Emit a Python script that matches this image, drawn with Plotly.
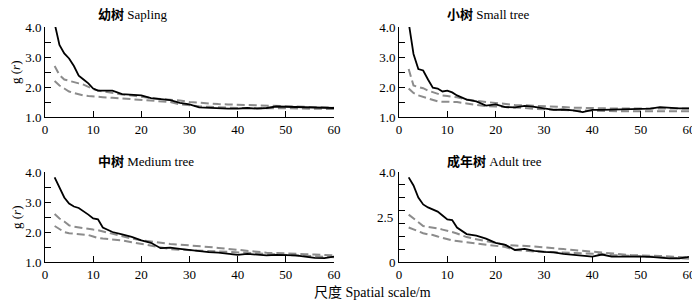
import plotly.graph_objects as go

# ---------------- data ----------------
r = [2, 3, 4, 5, 6, 7, 8, 9, 10, 11, 12, 14, 16, 18, 20, 22, 24, 26, 28, 30,
     32, 34, 36, 38, 40, 42, 44, 46, 48, 50, 52, 54, 56, 58, 60]

sapling_obs = [4.12, 3.40, 3.12, 2.95, 2.70, 2.38, 2.25, 2.12, 1.95, 1.88, 1.88, 1.88, 1.76, 1.73, 1.72, 1.63, 1.60, 1.56, 1.47, 1.42,
               1.32, 1.30, 1.28, 1.28, 1.28, 1.30, 1.28, 1.30, 1.35, 1.34, 1.33, 1.33, 1.32, 1.31, 1.30]
sapling_hi = [2.70, 2.40, 2.25, 2.20, 2.15, 2.12, 2.08, 2.00, 1.93, 1.88, 1.85, 1.80, 1.75, 1.72, 1.67, 1.63, 1.60, 1.58, 1.55, 1.50,
              1.47, 1.45, 1.43, 1.42, 1.41, 1.40, 1.39, 1.38, 1.37, 1.36, 1.35, 1.34, 1.33, 1.32, 1.31]
sapling_lo = [2.20, 2.05, 1.95, 1.85, 1.80, 1.75, 1.72, 1.70, 1.68, 1.67, 1.66, 1.64, 1.62, 1.60, 1.58, 1.55, 1.53, 1.50, 1.42, 1.38,
              1.36, 1.34, 1.32, 1.31, 1.30, 1.30, 1.29, 1.29, 1.29, 1.29, 1.28, 1.28, 1.28, 1.27, 1.27]

small_obs = [4.15, 3.10, 2.60, 2.55, 2.25, 1.98, 1.95, 1.85, 1.88, 1.82, 1.72, 1.58, 1.52, 1.38, 1.42, 1.33, 1.32, 1.37, 1.34, 1.30,
             1.24, 1.25, 1.22, 1.16, 1.24, 1.24, 1.25, 1.25, 1.26, 1.26, 1.28, 1.33, 1.30, 1.29, 1.29]
small_hi = [2.60, 2.05, 2.00, 1.96, 1.88, 1.82, 1.76, 1.72, 1.70, 1.68, 1.66, 1.58, 1.53, 1.50, 1.47, 1.43, 1.40, 1.39, 1.38, 1.37,
            1.35, 1.33, 1.31, 1.30, 1.30, 1.29, 1.29, 1.28, 1.28, 1.28, 1.28, 1.28, 1.28, 1.28, 1.28]
small_lo = [1.95, 1.80, 1.72, 1.67, 1.62, 1.56, 1.52, 1.51, 1.51, 1.51, 1.50, 1.45, 1.40, 1.36, 1.35, 1.34, 1.33, 1.30, 1.27, 1.25,
            1.24, 1.23, 1.22, 1.21, 1.21, 1.20, 1.20, 1.19, 1.19, 1.19, 1.19, 1.19, 1.19, 1.19, 1.19]

medium_obs = [3.82, 3.50, 3.15, 2.95, 2.85, 2.80, 2.70, 2.58, 2.45, 2.42, 2.15, 2.00, 1.92, 1.84, 1.72, 1.64, 1.46, 1.48, 1.44, 1.40,
              1.36, 1.33, 1.31, 1.27, 1.24, 1.27, 1.24, 1.22, 1.24, 1.23, 1.22, 1.18, 1.14, 1.13, 1.18]
medium_hi = [2.60, 2.45, 2.35, 2.22, 2.18, 2.15, 2.12, 2.10, 2.08, 2.06, 2.02, 1.93, 1.85, 1.78, 1.72, 1.68, 1.63, 1.60, 1.58, 1.56,
             1.53, 1.50, 1.47, 1.44, 1.41, 1.37, 1.33, 1.31, 1.30, 1.28, 1.27, 1.26, 1.25, 1.24, 1.22]
medium_lo = [2.20, 2.10, 2.00, 1.96, 1.95, 1.94, 1.93, 1.90, 1.85, 1.80, 1.78, 1.76, 1.72, 1.66, 1.60, 1.56, 1.48, 1.43, 1.41, 1.39,
             1.38, 1.36, 1.35, 1.34, 1.32, 1.31, 1.29, 1.27, 1.26, 1.24, 1.22, 1.21, 1.20, 1.18, 1.16]

adult_obs = [3.82, 3.55, 3.15, 2.92, 2.82, 2.76, 2.68, 2.55, 2.42, 2.40, 2.15, 1.93, 1.88, 1.78, 1.64, 1.57, 1.40, 1.44, 1.37, 1.34,
             1.32, 1.27, 1.24, 1.22, 1.18, 1.25, 1.18, 1.18, 1.19, 1.18, 1.17, 1.14, 1.12, 1.12, 1.17]
adult_hi = [2.58, 2.45, 2.30, 2.20, 2.17, 2.15, 2.12, 2.08, 2.05, 2.00, 1.95, 1.83, 1.76, 1.69, 1.62, 1.57, 1.55, 1.54, 1.52, 1.49,
            1.47, 1.43, 1.40, 1.37, 1.34, 1.31, 1.28, 1.25, 1.23, 1.22, 1.22, 1.20, 1.18, 1.16, 1.15]
adult_lo = [2.15, 2.08, 2.02, 1.96, 1.92, 1.90, 1.85, 1.80, 1.75, 1.72, 1.70, 1.66, 1.63, 1.59, 1.54, 1.50, 1.40, 1.37, 1.35, 1.34,
            1.33, 1.32, 1.31, 1.30, 1.28, 1.26, 1.23, 1.21, 1.20, 1.19, 1.18, 1.16, 1.14, 1.12, 1.11]

titles_cn = ["幼树", "小树", "中树", "成年树"]
titles_en = ["Sapling", "Small tree", "Medium tree", "Adult tree"]
x_ticks = [0, 10, 20, 30, 40, 50, 60]
y_tick_vals = [1.0, 1.5, 2.0, 2.5, 3.0, 3.5, 4.0]
y_tick_text = ["1.0", "", "2.0", "", "3.0", "", "4.0"]
adult_ytick_text = ["0", "2.5", "4.0"]
x_title = "尺度 Spatial scale/m"
y_title = "g (<i>r</i>)"

series = [(sapling_obs, sapling_hi, sapling_lo),
          (small_obs, small_hi, small_lo),
          (medium_obs, medium_hi, medium_lo),
          (adult_obs, adult_hi, adult_lo)]

# ---------------- layout geometry (page pixels) ----------------
PAGE_W, PAGE_H = 700, 307
OFF = 8  # default page body margin in the browser
W, H = PAGE_W - OFF, PAGE_H - OFF
SERIF = "Liberation Serif, 'Noto Sans CJK SC', serif"
col_px = [(45, 334), (399, 689)]
row_px = [(27, 117), (172, 262)]  # (top at g=4, bottom at g=1)


def px_x(p):
    return (p - OFF) / W


def px_y(p):
    return 1 - (p - OFF) / H


def ax_id(letter, n):
    return letter if n == 1 else f"{letter}{n}"


def ax_key(letter, n):
    return f"{letter}axis" if n == 1 else f"{letter}axis{n}"


fig = go.Figure()
layout = dict(
    width=W, height=H,
    margin=dict(l=0, r=0, t=0, b=0, autoexpand=False),
    paper_bgcolor="white", plot_bgcolor="white",
    showlegend=False,
    font=dict(family=SERIF, size=13, color="black"),
)
annotations = []

for i in range(4):
    row, col = divmod(i, 2)
    x0, x1 = col_px[col]
    top, bot = row_px[row]
    xd = [px_x(x0), px_x(x1)]
    yd = [px_y(bot), px_y(top)]

    n = i + 1
    ax_x, ax_y = ax_id("x", n), ax_id("y", n)

    obs, hi, lo = series[i]
    for vals, color, width, dash in [(hi, "#8c8c8c", 2, "8px,4px"),
                                     (lo, "#8c8c8c", 2, "8px,4px"),
                                     (obs, "black", 1.8, "solid")]:
        fig.add_trace(go.Scatter(x=r, y=vals, mode="lines", xaxis=ax_x, yaxis=ax_y,
                                 line=dict(color=color, width=width, dash=dash),
                                 hoverinfo="skip"))

    layout[ax_key("x", n)] = dict(
        domain=xd, range=[0, 60], anchor=ax_y, automargin=False,
        showline=True, linecolor="black", linewidth=1,
        ticks="inside", ticklen=6, tickwidth=1, tickcolor="black",
        tickmode="array", tickvals=x_ticks, ticktext=[str(t) for t in x_ticks],
        showgrid=False, zeroline=False,
        tickfont=dict(family=SERIF, size=13, color="black"),
    )
    yax = dict(
        domain=yd, range=[1, 4], anchor=ax_x, automargin=False,
        showline=True, linecolor="black", linewidth=1,
        ticks="inside", ticklen=6, tickwidth=1, tickcolor="black",
        showgrid=False, zeroline=False,
        tickfont=dict(family=SERIF, size=13, color="black"),
    )
    if i < 3:
        yax.update(tickmode="array", tickvals=y_tick_vals, ticktext=y_tick_text)
    else:
        tv = [1 + k * 3 / 7 for k in range(8)]
        tt = [adult_ytick_text[0]] + [""] * 6 + [adult_ytick_text[2]]
        yax.update(tickmode="array", tickvals=tv, ticktext=tt)
        annotations.append(dict(
            x=px_x(x0 - 4), xref="paper", y=2.5, yref=ax_y,
            text=adult_ytick_text[1], showarrow=False, xanchor="right", yanchor="middle",
            font=dict(family=SERIF, size=13, color="black")))
    layout[ax_key("y", n)] = yax

    # panel title
    title_left = 96 if col == 0 else 445
    title_y = 15 if row == 0 else 161
    annotations.append(dict(
        x=px_x(title_left), y=px_y(title_y), xref="paper", yref="paper",
        xanchor="left", yanchor="middle", showarrow=False,
        text=f"<b>{titles_cn[i]}</b> {titles_en[i]}",
        font=dict(family=SERIF, size=13, color="black")))

    # y-axis title (left column only)
    if col == 0:
        annotations.append(dict(
            x=px_x(16), y=px_y((top + bot) / 2), xref="paper", yref="paper",
            xanchor="center", yanchor="middle", showarrow=False, textangle=-90,
            text=y_title, font=dict(family=SERIF, size=13, color="black")))

annotations.append(dict(
    x=px_x(312), y=px_y(292), xref="paper", yref="paper",
    xanchor="left", yanchor="middle", showarrow=False,
    text=x_title, font=dict(family=SERIF, size=14, color="black")))

layout["annotations"] = annotations
fig.update_layout(**layout)
fig.write_html("out.html")
